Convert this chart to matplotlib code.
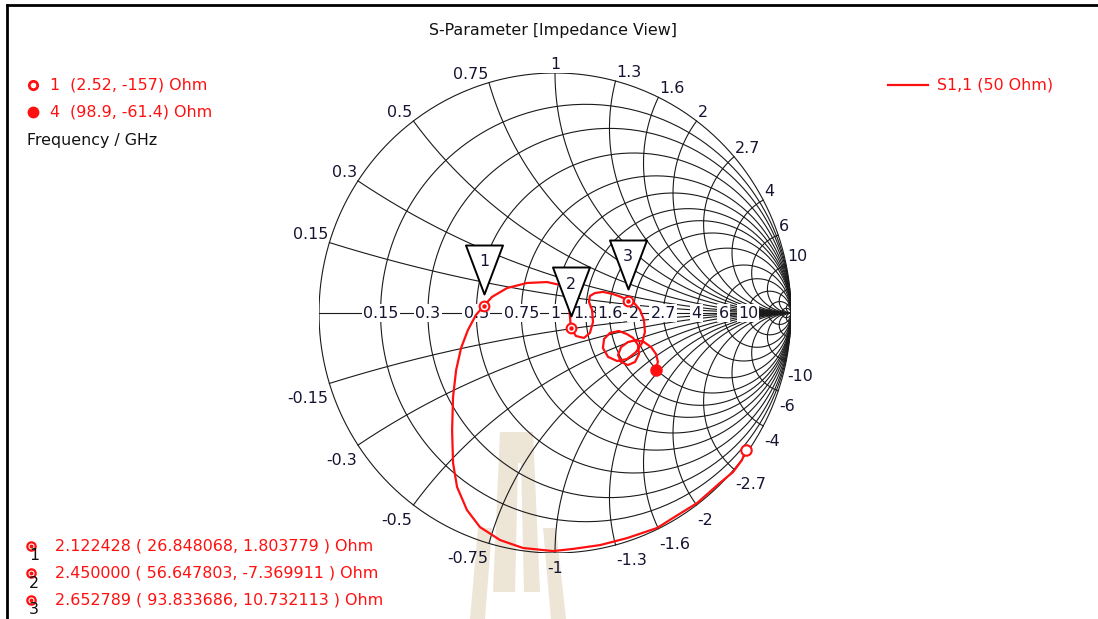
import numpy as np
import matplotlib.pyplot as plt
from matplotlib.lines import Line2D
from matplotlib.patches import Polygon
from matplotlib.path import Path
from matplotlib.transforms import Affine2D

plt.rcParams['font.family'] = 'DejaVu Sans'
plt.rcParams['font.size'] = 11.4

W, H = 1098, 619
z0 = 50.0

# grid circles / arcs of the chart
grid_values = [0.15, 0.3, 0.5, 0.75, 1, 1.3, 1.6, 2, 2.7, 4, 6, 10]
grid_labels = ['0.15', '0.3', '0.5', '0.75', '1', '1.3', '1.6', '2', '2.7', '4', '6', '10']
grid_extra = [20, 50]

# S1,1 trace as reflection coefficient, 1 GHz .. 4 GHz
s11_re = [0.808, 0.792, 0.754, 0.699, 0.602, 0.500, 0.432, 0.305, 0.191, 0.076,
          -0.008, -0.136, -0.233, -0.318, -0.373, -0.415, -0.432, -0.436, -0.432, -0.419,
          -0.398, -0.369, -0.335, -0.300, -0.267, -0.203, -0.119, -0.034, 0.021, 0.047,
          0.059, 0.064, 0.067, 0.089, 0.123, 0.148, 0.161, 0.157, 0.144, 0.148,
          0.169, 0.203, 0.246, 0.280, 0.309, 0.335, 0.360, 0.377, 0.381, 0.369,
          0.343, 0.305, 0.263, 0.225, 0.203, 0.208, 0.233, 0.271, 0.305, 0.331,
          0.352, 0.356, 0.339, 0.309, 0.280, 0.267, 0.280, 0.309, 0.343, 0.377,
          0.407, 0.428, 0.436, 0.426]
s11_im = [-0.573, -0.613, -0.663, -0.708, -0.792, -0.854, -0.896, -0.938, -0.967, -0.983,
          -0.992, -0.979, -0.946, -0.892, -0.821, -0.725, -0.625, -0.488, -0.350, -0.238,
          -0.146, -0.071, -0.008, 0.031, 0.067, 0.104, 0.125, 0.129, 0.117, 0.083,
          0.033, -0.021, -0.065, -0.096, -0.104, -0.083, -0.038, 0.013, 0.046, 0.071,
          0.083, 0.088, 0.079, 0.067, 0.052, 0.042, 0.013, -0.029, -0.079, -0.125,
          -0.163, -0.192, -0.200, -0.183, -0.146, -0.108, -0.083, -0.075, -0.088, -0.104,
          -0.133, -0.171, -0.204, -0.217, -0.204, -0.175, -0.142, -0.121, -0.113, -0.121,
          -0.142, -0.171, -0.204, -0.237]

# markers
marker_ids = ['1', '2', '3']
marker_freq = ['2.122428', '2.450000', '2.652789']
marker_R = [26.848068, 56.647803, 93.833686]
marker_X = [1.803779, -7.369911, 10.732113]

# first / last frequency point
start_label, start_R, start_X = '1  (2.52, -157) Ohm', 2.52, -157.0
end_label, end_R, end_X = '4  (98.9, -61.4) Ohm', 98.9, -61.4

# background logo shapes (pixel outlines)
logo_shapes = [
    [(500, 432), (533, 432), (540, 592), (524, 592), (521, 463), (518, 463), (515, 592), (493, 592)],
    [(478, 528), (492, 528), (485, 619), (470, 619)],
    [(543, 528), (556, 528), (566, 619), (551, 619)],
]

red = '#ff1010'
grid_col = '#1a1a1a'
lab_col = '#141432'


def gamma(z):
    return (z - 1) / (z + 1)


def gamma_ohm(R, X):
    return gamma((R + 1j * X) / z0)


def fx(x):
    return x / W


def fy(y):
    return 1 - y / H


fig = plt.figure(figsize=(W / 100, H / 100), dpi=100)
fig.patch.set_facecolor('white')

pix = Affine2D().scale(1 / W, -1 / H).translate(0, 1) + fig.transFigure
for shp in logo_shapes:
    fig.add_artist(Polygon(shp, closed=True, transform=pix, fc='#ede5d6', ec='none', zorder=0))

ax = fig.add_axes([319 / W, 1 - 553 / H, 472 / W, 480 / H])
ax.set_xlim(-1, 1)
ax.set_ylim(-1, 1)
ax.axis('off')
ax.patch.set_alpha(0)

# grid
t = np.concatenate([[0], np.logspace(-3, 5, 800)])
xs = np.concatenate([-t[::-1], t])
for r in [0] + grid_values + grid_extra:
    g = gamma(r + 1j * xs)
    ax.plot(g.real, g.imag, color=grid_col, lw=0.8, zorder=2)
for xv in grid_values + grid_extra:
    for s in (1, -1):
        g = gamma(t + 1j * s * xv)
        ax.plot(g.real, g.imag, color=grid_col, lw=0.8, zorder=2)
ax.plot([-1, 1], [0, 0], color=grid_col, lw=0.8, zorder=2)

# labels along the real axis
for r, lab in zip(grid_values, grid_labels):
    ax.text((r - 1) / (r + 1), 0, lab, ha='center', va='center', color=lab_col, zorder=3,
            bbox=dict(boxstyle='square,pad=0.08', fc='white', ec='none'))

# labels round the rim
for xv, lab in zip(grid_values, grid_labels):
    if xv < 1:
        ha, dx = 'right', -1
    elif xv > 1:
        ha, dx = 'left', 1
    else:
        ha, dx = 'center', 0
    g = gamma(1j * xv)
    ax.annotate(lab, (g.real, g.imag), xytext=(dx, 4), textcoords='offset pixels',
                ha=ha, va='baseline', color=lab_col, zorder=3)
    g = gamma(-1j * xv)
    ax.annotate('-' + lab, (g.real, g.imag), xytext=(dx, -8), textcoords='offset pixels',
                ha=ha, va='top', color=lab_col, zorder=3)

# trace
ax.plot(s11_re, s11_im, color=red, lw=1.6, zorder=4, solid_joinstyle='round')

gs = gamma_ohm(start_R, start_X)
ge = gamma_ohm(end_R, end_X)
ax.plot(gs.real, gs.imag, 'o', ms=7.5, mfc='white', mec=red, mew=1.5, zorder=5)
ax.plot(ge.real, ge.imag, 'o', ms=8, mfc=red, mec=red, zorder=5)

tri = Path([(0, 12), (-18.5, 61), (18.5, 61), (0, 12)],
           [Path.MOVETO, Path.LINETO, Path.LINETO, Path.CLOSEPOLY])
for mid, R, X in zip(marker_ids, marker_R, marker_X):
    g = gamma_ohm(R, X)
    ax.plot(g.real, g.imag, 'o', ms=7, mfc='white', mec=red, mew=1.5, zorder=5)
    ax.plot(g.real, g.imag, 'o', ms=2.2, mfc=red, mec=red, zorder=5)
    ax.plot(g.real, g.imag, marker=tri, ms=2 * 61 * 0.72, mfc='white', mec='black',
            mew=1.4, zorder=6, linestyle='none')
    ax.annotate(mid, (g.real, g.imag), xytext=(0, 44), textcoords='offset pixels',
                ha='center', va='center', color=lab_col, zorder=7)

# title and legends
fig.text(fx(553), fy(30), 'S-Parameter [Impedance View]', ha='center', va='center', color='#111')

fig.add_artist(Line2D([fx(33)], [fy(85)], marker='o', ms=6, mfc='white', mec=red, mew=2,
                      transform=fig.transFigure))
fig.add_artist(Line2D([fx(33)], [fy(112)], marker='o', ms=7.5, mfc=red, mec=red,
                      transform=fig.transFigure))
fig.text(fx(50), fy(85), start_label, ha='left', va='center', color=red)
fig.text(fx(50), fy(112), end_label, ha='left', va='center', color=red)
fig.text(fx(27), fy(140), 'Frequency / GHz', ha='left', va='center', color='#111')

fig.add_artist(Line2D([fx(888), fx(928)], [fy(85), fy(85)], color=red, lw=1.6,
                      transform=fig.transFigure))
fig.text(fx(937), fy(85), 'S1,1 (50 Ohm)', ha='left', va='center', color=red)

for i, (mid, f, R, X) in enumerate(zip(marker_ids, marker_freq, marker_R, marker_X)):
    y = 546 + 27 * i
    fig.add_artist(Line2D([fx(31)], [fy(y)], marker='o', ms=6, mfc='white', mec=red, mew=1.6,
                          transform=fig.transFigure))
    fig.add_artist(Line2D([fx(31)], [fy(y)], marker='o', ms=1.8, mfc=red, mec=red,
                          transform=fig.transFigure))
    fig.text(fx(34), fy(y + 10), mid, ha='center', va='center', color='#111')
    fig.text(fx(55), fy(y), f'{f} ( {R:.6f}, {X:.6f} ) Ohm', ha='left', va='center', color=red)

# frame
fig.add_artist(Line2D([fx(7), fx(W)], [fy(5), fy(5)], color='black', lw=2, transform=fig.transFigure))
fig.add_artist(Line2D([fx(7), fx(7)], [fy(5), fy(H)], color='black', lw=2, transform=fig.transFigure))

fig.savefig('out.png', dpi=100)
